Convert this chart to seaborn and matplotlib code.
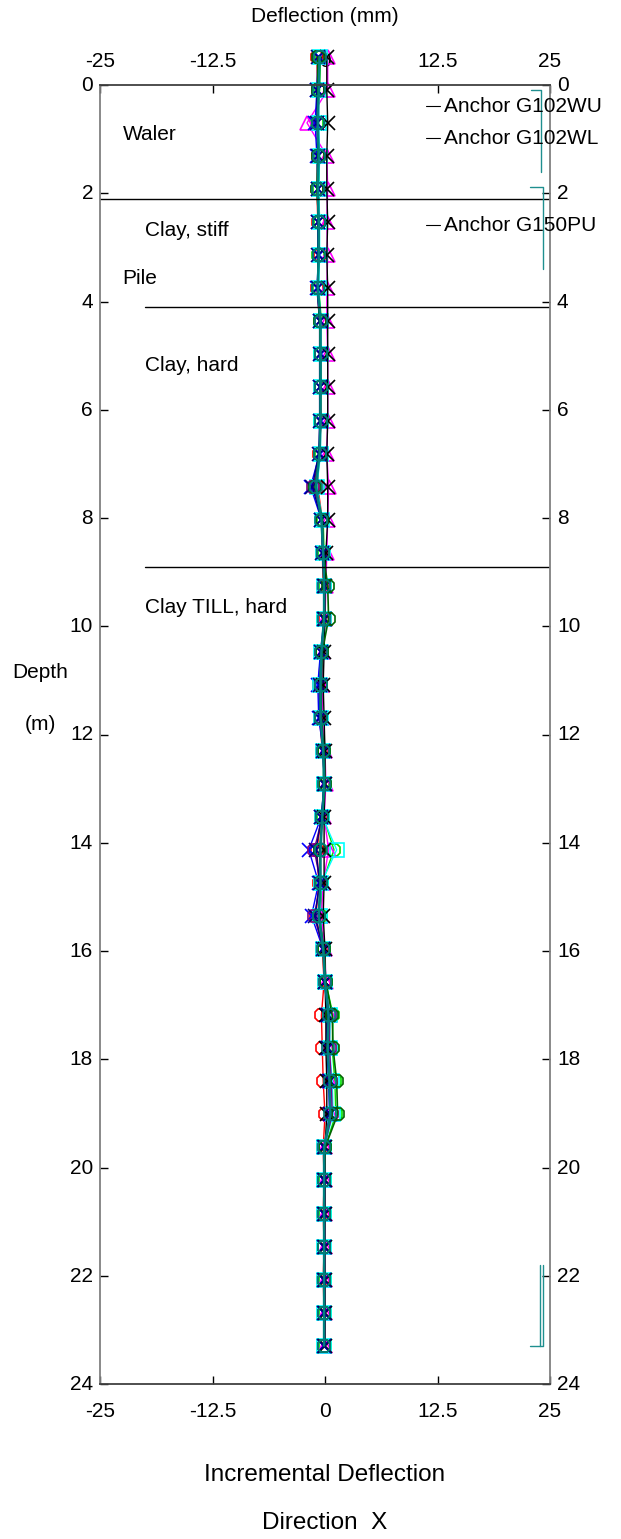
import matplotlib
matplotlib.use("Agg")
import matplotlib.pyplot as plt
import matplotlib.transforms as mtransforms
import seaborn as sns

# depth of each reading (m), 2 ft spacing
depth = [-0.52, 0.09, 0.70, 1.31, 1.92, 2.53, 3.14, 3.75, 4.36, 4.97,
         5.58, 6.20, 6.81, 7.42, 8.03, 8.64, 9.25, 9.86, 10.47, 11.08,
         11.69, 12.30, 12.91, 13.52, 14.13, 14.74, 15.35, 15.97, 16.58, 17.19,
         17.80, 18.41, 19.02, 19.63, 20.24, 20.85, 21.46, 22.07, 22.68, 23.29]

# incremental deflection per survey (mm)
red_read = [-0.9, -0.8, -0.7, -0.8, -0.9, -0.8, -0.6, -0.9, -0.6, -0.4,
            -0.6, -0.4, -0.7, -0.8, -0.3, -0.3, -0.2, 0.0, -0.5, -0.7,
            -0.6, -0.3, 0.0, -0.4, -0.9, -0.7, -1.0, -0.3, -0.1, -0.4,
            -0.3, -0.2, 0.0, -0.2, -0.1, -0.2, -0.1, -0.2, -0.1, -0.1]
lime_read = [-0.5, -0.6, -0.9, -0.6, -0.7, -0.6, -0.8, -0.7, -0.4, -0.6,
             -0.4, -0.6, -0.5, -1.2, -0.2, -0.1, 0.0, -0.2, -0.3, -0.4,
             -0.4, -0.1, -0.2, -0.2, 1.0, -0.3, -0.5, -0.1, 0.1, 0.9,
             0.8, 1.1, 1.2, 0.0, 0.0, 0.0, -0.1, 0.0, 0.0, 0.0]
blue_read = [-0.7, -0.9, -1.1, -0.9, -0.8, -0.8, -0.7, -0.9, -0.6, -0.5,
             -0.6, -0.5, -0.6, -1.6, -0.4, -0.2, -0.1, -0.1, -0.5, -0.8,
             -0.7, -0.2, -0.1, -0.4, -1.8, -0.7, -1.5, -0.2, 0.0, 0.2,
             0.2, 0.4, 0.5, -0.1, -0.1, -0.1, -0.1, -0.1, -0.1, -0.1]
magenta_read = [0.3, 0.3, -2.0, 0.2, 0.3, 0.2, 0.3, 0.2, 0.2, 0.3,
                0.3, 0.3, 0.2, 0.4, 0.3, 0.2, 0.1, 0.0, -0.2, -0.3,
                -0.3, 0.0, 0.1, -0.1, 0.4, -0.2, -0.4, 0.0, 0.1, 0.5,
                0.4, 0.6, 0.7, 0.0, 0.0, 0.0, 0.0, 0.0, 0.0, 0.0]
cyan_read = [-0.6, -0.7, -0.7, -0.6, -0.7, -0.6, -0.6, -0.7, -0.5, -0.4,
             -0.5, -0.5, -0.5, -0.9, -0.3, -0.2, -0.1, -0.1, -0.4, -0.6,
             -0.5, -0.2, -0.1, -0.3, 1.3, -0.4, -0.6, -0.2, 0.0, 0.6,
             0.5, 0.8, 0.9, -0.1, -0.1, -0.1, -0.1, -0.1, -0.1, -0.1]
purple_read = [-0.7, -0.8, -0.8, -0.7, -0.8, -0.7, -0.7, -0.8, -0.5, -0.5,
               -0.5, -0.5, -0.6, -1.3, -0.3, -0.2, -0.1, -0.1, -0.4, -0.5,
               -0.5, -0.2, -0.1, -0.3, -1.2, -0.5, -1.2, -0.2, 0.0, 0.5,
               0.5, 0.7, 0.8, -0.1, -0.1, -0.1, -0.1, -0.1, -0.1, -0.1]
black_read = [0.2, 0.2, 0.3, 0.2, 0.2, 0.3, 0.2, 0.3, 0.3, 0.3,
              0.3, 0.3, 0.2, 0.3, 0.3, 0.1, 0.0, 0.0, -0.1, -0.2,
              -0.1, 0.0, 0.0, -0.1, -0.1, -0.1, -0.2, 0.0, 0.0, 0.1,
              0.1, 0.2, 0.2, 0.0, 0.0, 0.0, 0.0, 0.0, 0.0, 0.0]
dkgreen_read = [-0.8, -0.8, -0.8, -0.8, -0.9, -0.7, -0.7, -0.8, -0.6, -0.5,
                -0.5, -0.5, -0.6, -1.1, -0.3, -0.2, 0.3, 0.4, -0.3, -0.4,
                -0.4, -0.1, 0.0, -0.3, -0.6, -0.5, -0.7, -0.1, 0.1, 0.8,
                0.9, 1.3, 1.4, 0.0, -0.1, -0.1, -0.1, -0.1, -0.1, -0.1]
navy_read = [-0.8, -0.9, -0.9, -0.8, -0.8, -0.8, -0.8, -0.8, -0.6, -0.6,
             -0.6, -0.6, -0.7, -1.4, -0.4, -0.3, -0.1, -0.1, -0.4, -0.6,
             -0.6, -0.2, -0.1, -0.4, -1.0, -0.6, -1.1, -0.2, 0.0, 0.3,
             0.3, 0.5, 0.6, -0.1, -0.1, -0.1, -0.1, -0.1, -0.1, -0.1]
teal_read = [-0.6, -0.7, -0.8, -0.7, -0.8, -0.7, -0.7, -0.8, -0.5, -0.5,
             -0.5, -0.5, -0.6, -1.0, -0.4, -0.2, -0.1, -0.1, -0.4, -0.5,
             -0.5, -0.2, -0.1, -0.3, -0.5, -0.5, -0.7, -0.2, 0.0, 0.4,
             0.3, 0.5, 0.6, -0.1, -0.1, -0.1, -0.1, -0.1, -0.1, -0.1]

# (values, colour, marker, line width) in drawing order
surveys = [
    (red_read, "#ff0000", "8", 1.0),
    (lime_read, "#00e000", "8", 1.0),
    (magenta_read, "#ff00ff", "^", 1.0),
    (blue_read, "#0000ff", "x", 1.0),
    (cyan_read, "#00ffff", "s", 1.0),
    (purple_read, "#800080", "8", 1.0),
    (black_read, "#000000", "x", 1.0),
    (navy_read, "#000080", "x", 1.0),
    (dkgreen_read, "#006400", "8", 1.2),
    (teal_read, "#008080", "8", 1.8),
]

x_ticks = [-25, -12.5, 0, 12.5, 25]
x_tick_labels = ["-25", "-12.5", "0", "12.5", "25"]
y_ticks = [0, 2, 4, 6, 8, 10, 12, 14, 16, 18, 20, 22, 24]

# soil layer boundaries: (depth, x start)
layer_depth = [2.11, 4.11, 8.91]
layer_start = [-25, -20, -20]
layer_names = ["Waler", "Clay, stiff", "Pile", "Clay, hard", "Clay TILL, hard"]
layer_name_x = [-22.5, -20, -22.5, -20, -20]
layer_name_y = [0.92, 2.68, 3.57, 5.18, 9.65]

anchor_names = ["Anchor G102WU", "Anchor G102WL", "Anchor G150PU"]
anchor_depth = [0.39, 0.98, 2.59]

sns.set_style("white")
plt.rcParams["font.family"] = ["Liberation Sans", "DejaVu Sans"]
plt.rcParams["font.size"] = 15
plt.rcParams["text.color"] = "black"
plt.rcParams["xtick.color"] = "black"
plt.rcParams["ytick.color"] = "black"

fig = plt.figure(figsize=(6.21, 15.39), dpi=100)
ax = fig.add_axes([100 / 621, 155 / 1539, 450 / 621, 1299 / 1539])

for vals, col, mk, lw in surveys:
    sns.lineplot(x=vals, y=depth, orient="y", sort=False, estimator=None,
                 color=col, marker=mk, markersize=9.5, markerfacecolor="none",
                 markeredgecolor=col, markeredgewidth=1.2, linewidth=lw,
                 clip_on=False, ax=ax, legend=False)

# soil boundaries
for d, x0 in zip(layer_depth, layer_start):
    ax.plot([x0, 25], [d, d], color="black", lw=1.0)
for name, x, y in zip(layer_names, layer_name_x, layer_name_y):
    ax.text(x, y, name, ha="left", va="center", fontsize=15)

# anchor labels
for name, d in zip(anchor_names, anchor_depth):
    ax.plot([11.2, 12.8], [d, d], color="black", lw=0.8)
    ax.text(13.2, d, name, ha="left", va="center", fontsize=15)

# anchor zones on the wall
teal = "#1f8f8f"
ax.plot([22.9, 24.0, 24.0], [0.09, 0.09, 1.61], color=teal, lw=1.0)
ax.plot([22.8, 24.2, 24.2], [1.89, 1.89, 3.40], color=teal, lw=1.0)
ax.plot([23.9, 23.9], [21.8, 23.3], color=teal, lw=1.0)
ax.plot([22.8, 24.2, 24.2], [23.3, 23.3, 21.8], color=teal, lw=1.0)

ax.set_xlim(-25, 25)
ax.set_ylim(24, 0)
ax.set_xticks(x_ticks)
ax.set_xticklabels(x_tick_labels)
ax.set_yticks(y_ticks)
ax.set_yticklabels([str(v) for v in y_ticks])
ax.tick_params(direction="in", length=6, width=1.0, left=True, bottom=True,
               top=True, right=True, labeltop=True, labelright=True,
               labelsize=15, colors="black")
ax.tick_params(axis="x", which="major", bottom=True, pad=13)
ax.tick_params(axis="x", which="major", top=True, labeltop=True)
ax.tick_params(axis="y", pad=5)
for lab in ax.xaxis.get_majorticklabels():
    pass

# top labels sit closer to the frame than bottom ones
up = mtransforms.ScaledTranslation(0, -4 / 100, fig.dpi_scale_trans)
for tick in ax.xaxis.get_major_ticks():
    tick.label2.set_transform(tick.label2.get_transform() + up)

# depth labels sit a little above their ticks
shift = mtransforms.ScaledTranslation(0, 1.5 / 100, fig.dpi_scale_trans)
for tick in ax.yaxis.get_major_ticks():
    tick.label1.set_transform(tick.label1.get_transform() + shift)
    tick.label2.set_transform(tick.label2.get_transform() + shift)

for side in ["left", "right"]:
    ax.spines[side].set_color("#808080")
    ax.spines[side].set_linewidth(1.3)
for side in ["top", "bottom"]:
    ax.spines[side].set_color("#404040")
    ax.spines[side].set_linewidth(1.3)
ax.set_xlabel("")
ax.set_ylabel("")

fig.text(325 / 621, 1 - 17 / 1539, "Deflection (mm)", ha="center", va="center", fontsize=15)
fig.text(40 / 621, 1 - 673 / 1539, "Depth", ha="center", va="center", fontsize=15)
fig.text(40 / 621, 1 - 725 / 1539, "(m)", ha="center", va="center", fontsize=15)
fig.text(325 / 621, 1 - 1475 / 1539, "Incremental Deflection", ha="center", va="center", fontsize=17.5)
fig.text(325 / 621, 1 - 1523 / 1539, "Direction  X", ha="center", va="center", fontsize=17.5)

fig.savefig("out.png", dpi=100)
